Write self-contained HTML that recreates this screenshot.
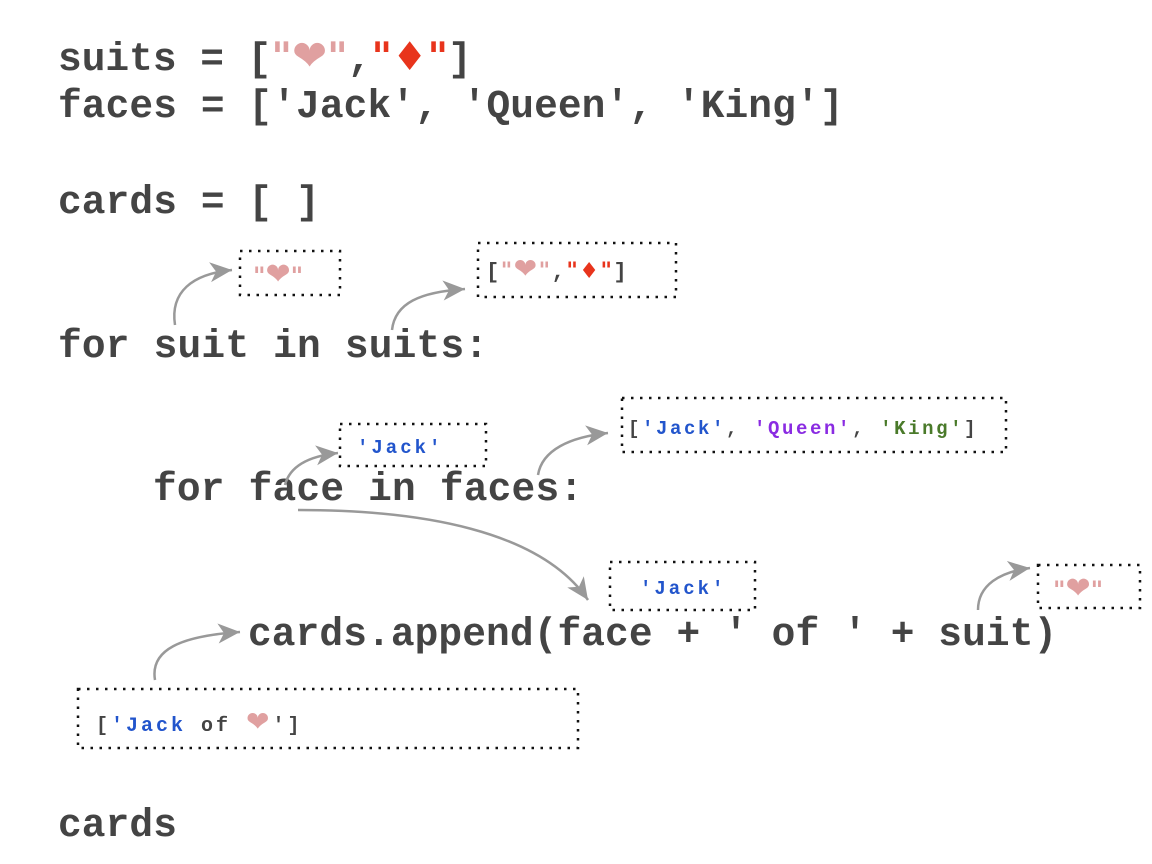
<!DOCTYPE html>
<html><head><meta charset="utf-8"><style>
html,body{margin:0;padding:0;background:#fff;}
svg{display:block;}
.c{font-family:"Liberation Mono","DejaVu Sans Mono",monospace;font-weight:bold;font-size:39.5px;fill:#444;}
.s{font-family:"Liberation Mono","DejaVu Sans Mono",monospace;font-weight:bold;font-size:20px;fill:#444;}
.h{fill:#e0a0a0;font-family:"DejaVu Sans",sans-serif;}
.d{fill:#e8341c;font-family:"DejaVu Sans",sans-serif;}
.b{fill:none;stroke:#111;stroke-width:2.5;stroke-dasharray:2.5 6.5;}
.a{fill:none;stroke:#999;stroke-width:2.5;}
</style></head><body>
<svg width="1152" height="864" viewBox="0 0 1152 864" xmlns="http://www.w3.org/2000/svg">
<defs>
<marker id="m" markerUnits="userSpaceOnUse" markerWidth="26" markerHeight="22" refX="22" refY="10" orient="auto">
<path d="M0,0 L22,10 L0,20 L6,10 Z" fill="#999"/>
</marker>
</defs>
<text class="c" x="58" y="70" style="letter-spacing:0px">suits = [<tspan class="h">"<tspan style="font-size:42px">❤</tspan>"</tspan>,<tspan class="d">"♦"</tspan>]</text>
<text class="c" x="58" y="117" style="letter-spacing:0.1px">faces = ['Jack', 'Queen', 'King']</text>
<text class="c" x="58" y="213" style="letter-spacing:0.1px">cards = [ ]</text>
<text class="c" x="58" y="357" style="letter-spacing:0.2px">for suit in suits:</text>
<text class="c" x="153" y="500" style="letter-spacing:0.2px">for face in faces:</text>
<text class="c" x="248" y="645" style="letter-spacing:0.1px">cards.append(face + ' of ' + suit)</text>
<text class="c" x="58" y="836" style="letter-spacing:0.1px">cards</text>

<rect class="b" x="240" y="251" width="100" height="44"/>
<text class="s h" x="253" y="284" style="font-size:24px">"<tspan style="font-size:30px">❤</tspan>"</text>
<rect class="b" x="478" y="243" width="198" height="54"/>
<text class="s" x="486" y="278" style="font-size:22px;letter-spacing:1.5px">[<tspan class="h">"<tspan style="font-size:28px">❤</tspan>"</tspan>,<tspan class="d">"♦"</tspan>]</text>

<rect class="b" x="340" y="424" width="146" height="42"/>
<text class="s" x="357" y="453" style="fill:#2255cc;font-size:19px;letter-spacing:3px">'Jack'</text>
<rect class="b" x="622" y="398" width="384" height="54"/>
<text class="s" x="628" y="434" style="font-size:19px;letter-spacing:2.6px">[<tspan style="fill:#2255cc">'Jack'</tspan>, <tspan style="fill:#8a2be2">'Queen'</tspan>, <tspan style="fill:#4a7a2a">'King'</tspan>]</text>

<rect class="b" x="610" y="562" width="145" height="48"/>
<text class="s" x="640" y="594" style="fill:#2255cc;font-size:19px;letter-spacing:3px">'Jack'</text>
<rect class="b" x="1038" y="565" width="102" height="43"/>
<text class="s h" x="1053" y="598" style="font-size:24px">"<tspan style="font-size:30px">❤</tspan>"</text>

<rect class="b" x="78" y="689" width="500" height="59"/>
<text class="s" x="96" y="731" style="font-size:20px;letter-spacing:3px">[<tspan style="fill:#2255cc">'Jack</tspan> of <tspan class="h" style="font-size:28px">❤</tspan>']</text>

<path class="a" marker-end="url(#m)" d="M175,325 C170,292 192,274 232,270"/>
<path class="a" marker-end="url(#m)" d="M392,330 C395,303 420,292 465,289"/>
<path class="a" marker-end="url(#m)" d="M285,485 C290,465 310,456 338,453"/>
<path class="a" marker-end="url(#m)" d="M538,475 C542,450 570,437 608,433"/>
<path class="a" marker-end="url(#m)" d="M298,510 C420,510 540,530 588,600"/>
<path class="a" marker-end="url(#m)" d="M978,610 C978,585 1000,572 1030,568"/>
<path class="a" marker-end="url(#m)" d="M155,680 C150,650 180,636 240,632"/>
</svg>
</body></html>
